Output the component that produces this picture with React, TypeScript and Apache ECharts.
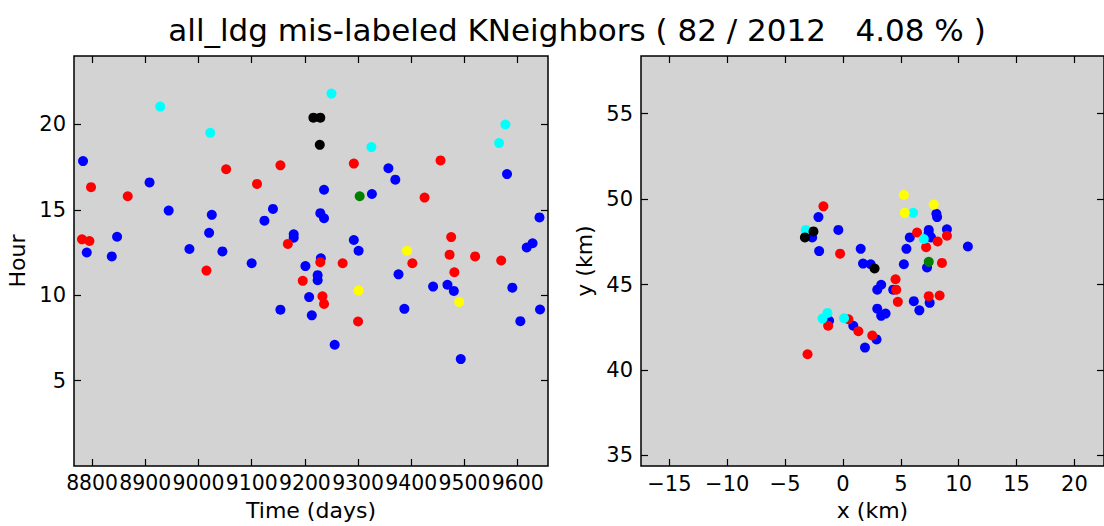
import React, { useEffect, useRef } from "react";
import * as echarts from "echarts";

// ---- tick labels ----
const timeTicks = [8800, 8900, 9000, 9100, 9200, 9300, 9400, 9500, 9600];
const hourTicks = [5, 10, 15, 20];
const xKmTicks = [-15, -10, -5, 0, 5, 10, 15, 20];
const yKmTicks = [35, 40, 45, 50, 55];

const titleText = "all_ldg mis-labeled KNeighbors ( 82 / 2012   4.08 % )";

// ---- left panel: [time (days), hour] ----
const timeHourBlue = [
  [8783, 17.85], [8908, 16.6], [8944, 14.95], [9025, 14.7], [9140, 15.05], [9124, 14.36],
  [9236, 16.17], [9229, 14.8], [9236, 14.5], [9357, 17.43], [9370, 16.76], [9326, 15.92],
  [9580, 17.09], [9641, 14.55], [8847, 13.42], [8790, 12.5], [8837, 12.27], [9020, 13.65],
  [8983, 12.7], [9045, 12.56], [9100, 11.87], [9179, 13.56], [9179, 13.36], [9230, 12.16],
  [9201, 11.7], [9224, 11.17], [9224, 10.88], [9208, 9.89], [9154, 9.15], [9213, 8.82],
  [9292, 13.23], [9301, 12.6], [9617, 12.79], [9628, 13.04], [9376, 11.22], [9441, 10.5],
  [9468, 10.61], [9480, 10.25], [9590, 10.44], [9387, 9.2], [9605, 8.48], [9642, 9.16],
  [9256, 7.1], [9493, 6.26],
];
const timeHourRed = [
  [8798, 16.32], [8867, 15.79], [9052, 17.37], [9110, 16.51], [9154, 17.6], [9292, 17.7],
  [9455, 17.89], [9425, 15.71], [8781, 13.27], [8795, 13.17], [9015, 11.44], [9168, 13.0],
  [9229, 11.93], [9196, 10.84], [9233, 9.93], [9236, 9.49], [9475, 13.4], [9472, 12.37],
  [9520, 12.27], [9569, 12.03], [9271, 11.87], [9402, 11.87], [9481, 11.34], [9300, 8.46],
];
const timeHourCyan = [[8928, 21.04], [9022, 19.5], [9250, 21.8], [9325, 18.67], [9577, 19.99], [9565, 18.9]];
const timeHourBlack = [[9216, 20.39], [9229, 20.39], [9228, 18.8]];
const timeHourGreen = [[9303, 15.79]];
const timeHourYellow = [[9392, 12.6], [9301, 10.27], [9490, 9.6]];

// ---- right panel: [x (km), y (km)] ----
const xyBlue = [
  [-2.12, 48.95], [8.07, 49.14], [8.13, 48.95], [-2.66, 47.76], [-0.4, 48.2], [-2.06, 46.96],
  [1.53, 47.09], [1.73, 46.23], [2.39, 46.19], [7.41, 48.2], [7.4, 48.0], [5.77, 47.76],
  [8.98, 48.24], [7.61, 47.76], [5.48, 47.09], [10.79, 47.23], [5.26, 46.19], [7.26, 46.0],
  [3.3, 44.99], [2.96, 44.7], [4.34, 44.7], [6.12, 44.03], [7.49, 43.93], [6.6, 43.49],
  [2.96, 43.59], [3.3, 43.17], [3.68, 43.3], [-1.2, 42.88], [0.89, 42.59], [2.9, 41.79],
  [1.9, 41.31],
];
const xyRed = [
  [-1.69, 49.58], [-0.25, 46.81], [6.4, 48.05], [8.98, 47.86], [8.18, 47.52], [7.18, 47.19],
  [8.55, 46.27], [4.54, 45.31], [4.6, 44.7], [4.74, 43.99], [7.41, 44.32], [8.35, 44.36],
  [-1.28, 42.59], [0.47, 42.97], [1.33, 42.27], [2.53, 42.02], [-3.06, 40.92],
];
const xyCyan = [[6.06, 49.2], [-3.21, 48.2], [6.98, 47.67], [-1.34, 43.34], [-1.77, 43.01], [0.09, 43.03]];
const xyBlack = [[-2.55, 48.11], [-3.29, 47.76], [2.73, 45.94]];
const xyGreen = [[7.41, 46.33]];
const xyYellow = [[5.26, 50.25], [7.84, 49.68], [5.34, 49.2]];

const FONT = "DejaVu Sans";
const minusFmt = (v: number) => (v < 0 ? "\u2212" + Math.abs(v) : String(v));

function axis(
  dim: "x" | "y",
  gridIndex: number,
  position: string,
  min: number,
  max: number,
  ticks: number[],
  showLabel: boolean,
  name?: string,
  nameGap?: number,
  labelSize?: number
) {
  return {
    type: "value",
    gridIndex,
    position,
    min,
    max,
    splitNumber: ticks.length,
    name: name || "",
    nameLocation: "middle",
    nameGap: nameGap || 0,
    nameTextStyle: { fontFamily: FONT, fontSize: 22, color: "#000" },
    axisLine: { show: false, onZero: false },
    splitLine: { show: false },
    axisTick: {
      show: true,
      inside: true,
      length: 7,
      interval: 0,
      customValues: ticks,
      lineStyle: { color: "#000", width: 1.2 },
    },
    axisLabel: {
      show: showLabel,
      interval: 0,
      hideOverlap: false,
      showMinLabel: true,
      showMaxLabel: true,
      customValues: ticks,
      fontFamily: FONT,
      fontSize: labelSize || 21,
      color: "#000",
      margin: dim === "x" ? 7 : 8,
      formatter: minusFmt,
    },
  };
}

const pointColors = ["#0000ff", "#ff0000", "#00ffff", "#000000", "#008000", "#ffff00"];

export default function App() {
  const ref = useRef<HTMLDivElement>(null);
  useEffect(() => {
    if (!ref.current) return;
    const chart = echarts.init(ref.current, null, { renderer: "svg" });
    const leftSets = [timeHourBlue, timeHourRed, timeHourCyan, timeHourBlack, timeHourGreen, timeHourYellow];
    const rightSets = [xyBlue, xyRed, xyCyan, xyBlack, xyGreen, xyYellow];
    const series: any[] = [];
    leftSets.forEach((d, i) =>
      series.push({
        type: "scatter",
        xAxisIndex: 0,
        yAxisIndex: 0,
        data: d,
        symbolSize: 10,
        itemStyle: { color: pointColors[i], opacity: 1 },
        silent: true,
      })
    );
    rightSets.forEach((d, i) =>
      series.push({
        type: "scatter",
        xAxisIndex: 2,
        yAxisIndex: 2,
        data: d,
        symbolSize: 10,
        itemStyle: { color: pointColors[i], opacity: 1 },
        silent: true,
      })
    );
    const gridStyle = {
      show: true,
      backgroundColor: "#d3d3d3",
      borderColor: "#000",
      borderWidth: 1.5,
      containLabel: false,
    };
    chart.setOption({
      animation: false,
      backgroundColor: "#ffffff",
      grid: [
        { ...gridStyle, left: 74, top: 56, width: 474, height: 419 },
        { ...gridStyle, left: 641, top: 56, width: 474, height: 419 },
      ],
      xAxis: [
        axis("x", 0, "bottom", 8766, 9657, timeTicks, true, "Time (days)", 33, 20.4),
        axis("x", 0, "top", 8766, 9657, timeTicks, false),
        axis("x", 1, "bottom", -17.45, 22.55, xKmTicks, true, "x (km)", 33),
        axis("x", 1, "top", -17.45, 22.55, xKmTicks, false),
      ],
      yAxis: [
        axis("y", 0, "left", 0, 24, hourTicks, true, "Hour", 46),
        axis("y", 0, "right", 0, 24, hourTicks, false),
        axis("y", 1, "left", 34.38, 58.38, yKmTicks, true, "y (km)", 46),
        axis("y", 1, "right", 34.38, 58.38, yKmTicks, false),
      ],
      graphic: [
        {
          type: "text",
          x: 577,
          y: 30,
          style: {
            text: titleText,
            fill: "#000",
            font: `31px "${FONT}"`,
            textAlign: "center",
            textVerticalAlign: "middle",
          },
        },
      ],
      series,
    });
    return () => chart.dispose();
  }, []);
  return (
    <div
      ref={ref}
      style={{ position: "absolute", left: 0, top: 0, width: 1104, height: 526 }}
    />
  );
}
